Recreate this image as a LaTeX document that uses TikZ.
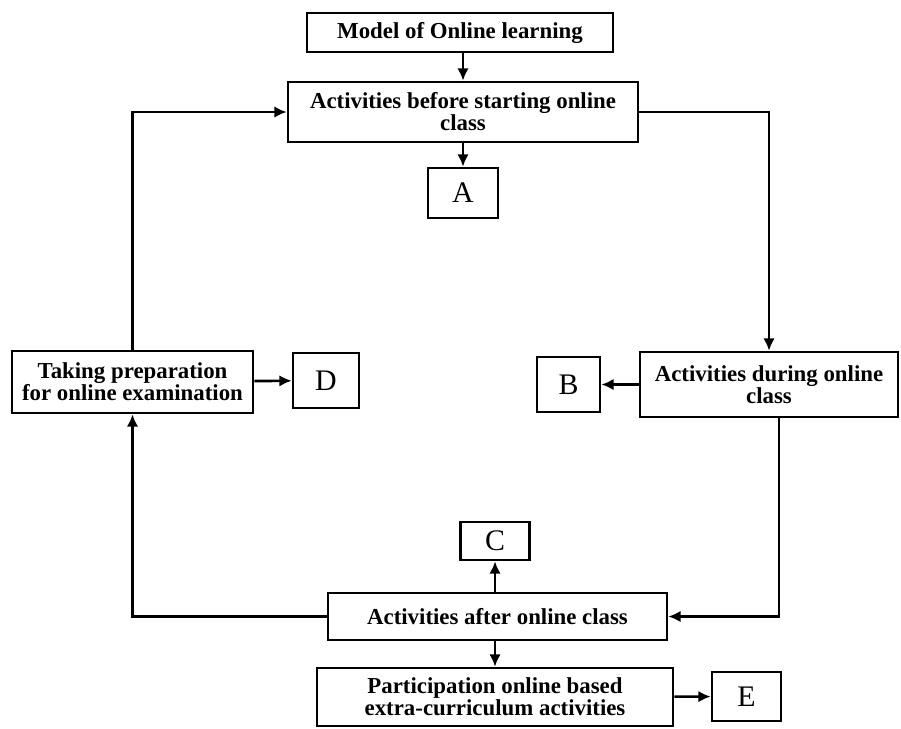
\documentclass[tikz,border=0pt]{standalone}
\usepackage{fontspec}
\setmainfont{Liberation Serif}
\usetikzlibrary{arrows.meta}
\begin{document}
\begin{tikzpicture}[x=0.02cm,y=-0.02cm,
  box/.style={draw,line width=1.5pt,align=center,inner sep=0pt,
    font=\bfseries\fontsize{13}{12.5}\selectfont},
  letter/.style={draw,line width=1.5pt,inner sep=0pt,
    font=\fontsize{17}{17}\selectfont},
  arr/.style={line width=1.5pt,-{Latex[length=7pt,width=6.5pt]}}]
\useasboundingbox (0,0) rectangle (901,728);

\node[box,minimum width=6.12cm,minimum height=0.78cm] (model) at (460,32.5) {Model of Online learning};
\node[box,minimum width=7cm,minimum height=1.2cm] (before) at (463,112) {Activities before starting online\\class};
\node[letter,minimum width=1.4cm,minimum height=1cm] (A) at (463,193) {A};
\node[box,minimum width=4.82cm,minimum height=1.24cm] (taking) at (132.5,382) {Taking preparation\\for online examination};
\node[letter,minimum width=1.32cm,minimum height=1.1cm] (D) at (326,380.5) {D};
\node[letter,minimum width=1.26cm,minimum height=1.1cm] (B) at (568.5,384.5) {B};
\node[box,minimum width=5.16cm,minimum height=1.3cm] (during) at (769,384.5) {Activities during online\\class};
\node[letter,minimum width=1.38cm,minimum height=0.76cm] (C) at (495,541) {C};
\node[box,minimum width=6.78cm,minimum height=0.94cm] (after) at (497.5,616.5) {Activities after online class};
\node[box,minimum width=7.12cm,minimum height=1.16cm] (particip) at (495,697) {Participation online based\\extra-curriculum activities};
\node[letter,minimum width=1.38cm,minimum height=0.98cm] (E) at (746.5,696.5) {E};

\draw[arr] (before |- model.south) -- (before);
\draw[arr] (before) -- (A);
\draw[arr] (taking.north) |- (before.west);
\draw[arr] (before.east) -| (during.north);
\draw[arr] (during) -- (B);
\draw[arr] (taking) -- (D);
\draw[arr] ([xshift=0.2cm]during.south) |- (after.east);
\draw[arr] (after.west) -| (taking.south);
\draw[arr] (C |- after.north) -- (C);
\draw[arr] (particip |- after.south) -- (particip);
\draw[arr] (particip) -- (E);
\end{tikzpicture}
\end{document}
